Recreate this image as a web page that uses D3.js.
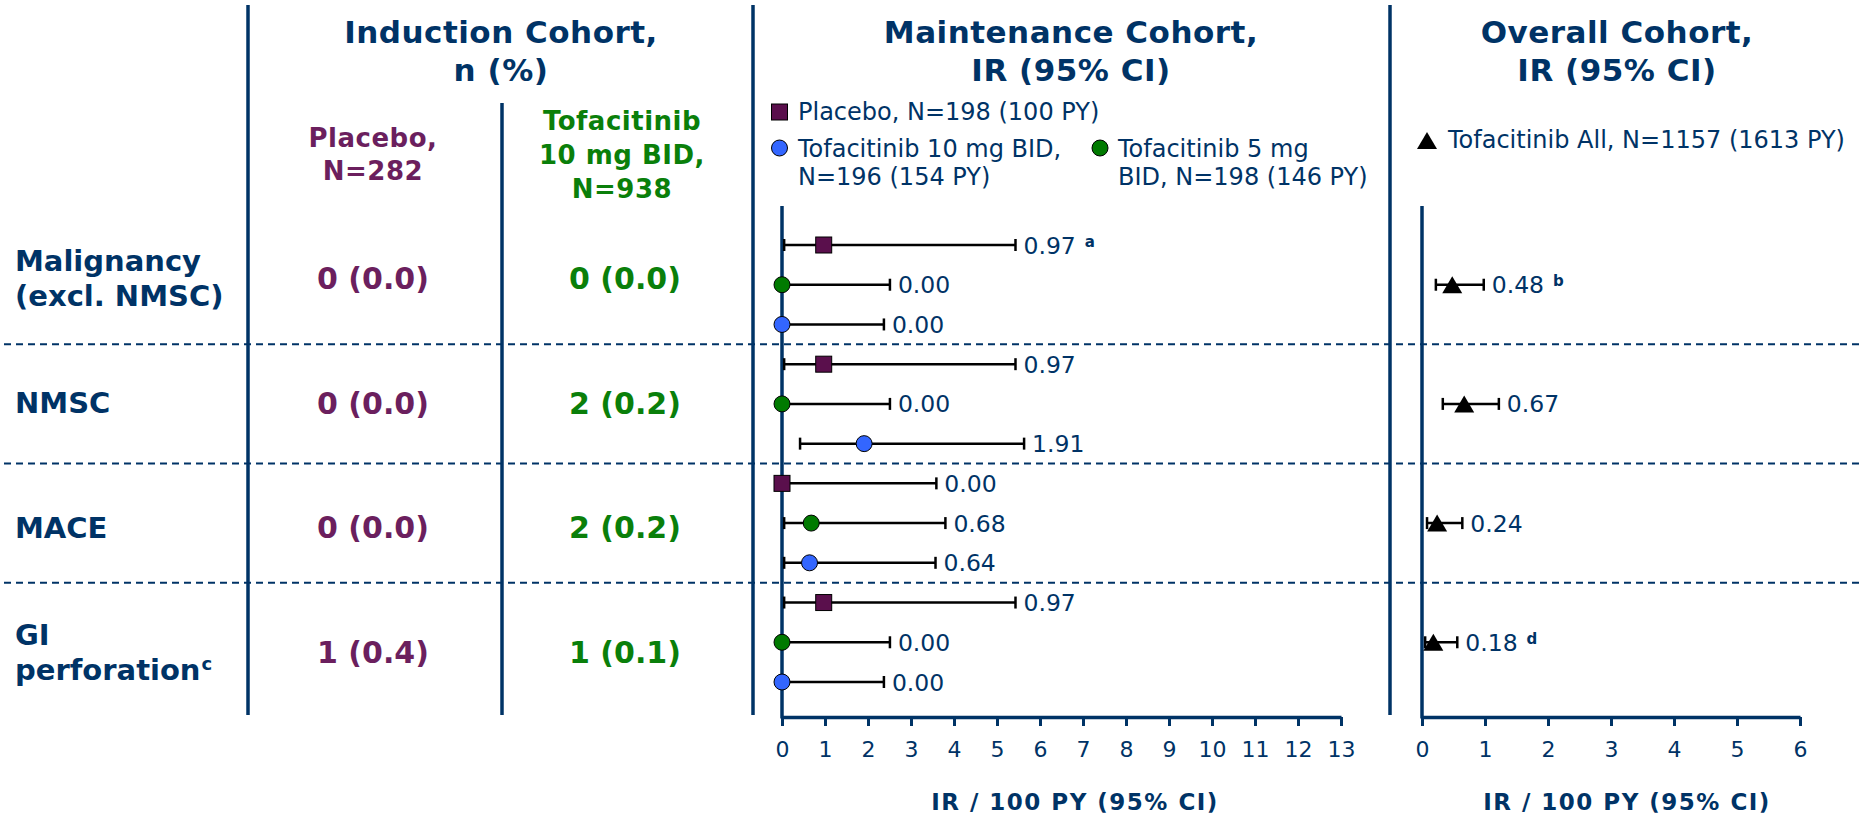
<!DOCTYPE html>
<html>
<head>
<meta charset="utf-8">
<script src="https://cdn.jsdelivr.net/npm/d3@7"></script>
<style>
  html, body { margin: 0; padding: 0; background: #ffffff; }
  svg { display: block; font-family: "DejaVu Sans", Verdana, sans-serif; }
</style>
</head>
<body>
<svg id="chart" width="1860" height="816"></svg>
<script>
// ---------------- DATA ----------------
const categories = ["Malignancy (excl. NMSC)", "NMSC", "MACE", "GI perforation"];
const categoryLines = [["Malignancy", "(excl. NMSC)"], ["NMSC"], ["MACE"], ["GI", "perforation"]];
const categorySup = ["", "", "", "c"];

const inductionPlacebo = ["0 (0.0)", "0 (0.0)", "0 (0.0)", "1 (0.4)"];
const inductionTofa10 = ["0 (0.0)", "2 (0.2)", "2 (0.2)", "1 (0.1)"];

// Maintenance cohort (IR / 100 PY with 95% CI)
const maintPlaceboIR = [0.97, 0.97, 0.00, 0.97];
const maintPlaceboLo = [0.05, 0.05, 0.00, 0.05];
const maintPlaceboHi = [5.43, 5.43, 3.59, 5.43];
const maintPlaceboSup = ["a", "", "", ""];

const maintTofa5IR = [0.00, 0.00, 0.68, 0.00];
const maintTofa5Lo = [0.00, 0.00, 0.05, 0.00];
const maintTofa5Hi = [2.51, 2.51, 3.80, 2.51];

const maintTofa10IR = [0.00, 1.91, 0.64, 0.00];
const maintTofa10Lo = [0.00, 0.42, 0.05, 0.00];
const maintTofa10Hi = [2.37, 5.63, 3.57, 2.37];

// Overall cohort
const overallIR = [0.48, 0.67, 0.24, 0.18];
const overallLo = [0.22, 0.33, 0.08, 0.05];
const overallHi = [0.98, 1.22, 0.64, 0.56];
const overallSup = ["b", "", "", "d"];

const maintTicks = d3.range(0, 14);
const overallTicks = d3.range(0, 7);

const legendMaint = [
  { label: ["Placebo, N=198 (100 PY)"], shape: "square", key: "placebo" },
  { label: ["Tofacitinib 10 mg BID,", "N=196 (154 PY)"], shape: "circle", key: "tofa10" },
  { label: ["Tofacitinib 5 mg", "BID, N=198 (146 PY)"], shape: "circle", key: "tofa5" }
];
const legendOverall = "Tofacitinib All, N=1157 (1613 PY)";

// ---------------- STYLE ----------------
const NAVY = "#003366";
const PURPLE_TXT = "#6b1f5e";
const GREEN_TXT = "#0a7f0a";
const colors = { placebo: "#5a0f4c", tofa5: "#007a00", tofa10: "#3366ff", all: "#000000" };

const svg = d3.select("#chart");

// ---------------- SCALES ----------------
const yTable = d3.scalePoint().domain(categories).range([278, 652]);
const ySlot = d3.scalePoint().domain(d3.range(12)).range([245, 682]);
const xMaint = d3.scaleLinear().domain([0, 13]).range([782, 1341]);
const xOver = d3.scaleLinear().domain([0, 6]).range([1422, 1800]);
const axisY = 717;

// ---------------- HEADERS ----------------
function multiText(x, baselines, lines, opts) {
  const t = svg.append("text")
    .attr("text-anchor", opts.anchor || "middle")
    .attr("font-size", opts.size)
    .attr("font-weight", opts.weight || "normal")
    .attr("fill", opts.fill)
    .attr("letter-spacing", opts.ls || 0);
  lines.forEach((l, i) => {
    t.append("tspan").attr("x", x).attr("y", baselines[i]).text(l);
  });
  return t;
}

multiText(501, [43, 81], ["Induction Cohort,", "n (%)"], { size: 31, weight: "bold", fill: NAVY, ls: 0.5 });
multiText(1071, [43, 81], ["Maintenance Cohort,", "IR (95% CI)"], { size: 31, weight: "bold", fill: NAVY, ls: 0.5 });
multiText(1617, [43, 81], ["Overall Cohort,", "IR (95% CI)"], { size: 31, weight: "bold", fill: NAVY, ls: 0.5 });

multiText(373, [147, 180], ["Placebo,", "N=282"], { size: 26, weight: "bold", fill: PURPLE_TXT, ls: 0.5 });
multiText(622, [130, 164, 198], ["Tofacitinib", "10 mg BID,", "N=938"], { size: 26, weight: "bold", fill: GREEN_TXT, ls: 0.5 });

// ---------------- GRID LINES ----------------
const sepYs = [0, 1, 2].map(g => (ySlot(g * 3 + 2) + ySlot(g * 3 + 3)) / 2);
svg.append("g").selectAll("line").data(sepYs).join("line")
  .attr("x1", 4).attr("x2", 1860)
  .attr("y1", d => d).attr("y2", d => d)
  .attr("stroke", NAVY).attr("stroke-width", 2).attr("stroke-dasharray", "7,5");

const vlines = [
  { x: 248, y1: 5, y2: 715 },
  { x: 502, y1: 103, y2: 715 },
  { x: 753, y1: 5, y2: 715 },
  { x: 1390, y1: 5, y2: 715 }
];
svg.append("g").selectAll("line").data(vlines).join("line")
  .attr("x1", d => d.x).attr("x2", d => d.x)
  .attr("y1", d => d.y1).attr("y2", d => d.y2)
  .attr("stroke", NAVY).attr("stroke-width", 3.5);

// ---------------- TABLE ----------------
const rowG = svg.append("g");
categories.forEach((c, i) => {
  const cy = yTable(c);
  const lines = categoryLines[i];
  const fs = 29;
  const offs = lines.length === 1 ? [0] : [-17.5, 17.5];
  const t = rowG.append("text").attr("font-size", fs).attr("font-weight", "bold").attr("fill", NAVY);
  lines.forEach((l, j) => {
    const ts = t.append("tspan").attr("x", 15).attr("y", cy + offs[j] + 10.5).text(l);
    if (j === lines.length - 1 && categorySup[i]) {
      t.append("tspan").attr("dx", 1).attr("dy", -10).attr("font-size", 18).text(categorySup[i]);
    }
  });
  rowG.append("text").attr("x", 373).attr("y", cy + 11)
    .attr("text-anchor", "middle").attr("font-size", 30).attr("font-weight", "bold")
    .attr("fill", PURPLE_TXT).text(inductionPlacebo[i]);
  rowG.append("text").attr("x", 625).attr("y", cy + 11)
    .attr("text-anchor", "middle").attr("font-size", 30).attr("font-weight", "bold")
    .attr("fill", GREEN_TXT).text(inductionTofa10[i]);
});

// ---------------- AXES ----------------
function drawAxis(x, ticks, y0) {
  const ax = d3.axisBottom(x).tickValues(ticks).tickSize(9).tickSizeOuter(0).tickPadding(15)
    .tickFormat(d3.format("d"));
  const g = svg.append("g").attr("transform", `translate(0,${axisY})`).call(ax);
  g.select(".domain").attr("stroke", NAVY).attr("stroke-width", 3.5);
  g.selectAll(".tick line").attr("stroke", NAVY).attr("stroke-width", 3);
  g.selectAll(".tick text").attr("fill", NAVY).attr("font-size", 22)
    .attr("font-family", "DejaVu Sans, Verdana, sans-serif");
  svg.append("line").attr("x1", x(0)).attr("x2", x(0)).attr("y1", 206).attr("y2", axisY + 1.5)
    .attr("stroke", NAVY).attr("stroke-width", 3.5);
}
drawAxis(xMaint, maintTicks);
drawAxis(xOver, overallTicks);

svg.append("text").attr("x", 1075).attr("y", 810).attr("text-anchor", "middle")
  .attr("font-size", 23).attr("font-weight", "bold").attr("fill", NAVY).attr("letter-spacing", 1.5)
  .text("IR / 100 PY (95% CI)");
svg.append("text").attr("x", 1627).attr("y", 810).attr("text-anchor", "middle")
  .attr("font-size", 23).attr("font-weight", "bold").attr("fill", NAVY).attr("letter-spacing", 1.5)
  .text("IR / 100 PY (95% CI)");

// ---------------- MARKS ----------------
function triPath(cx, cy, w, h) {
  return `M${cx},${cy - h / 2}L${cx + w / 2},${cy + h / 2}L${cx - w / 2},${cy + h / 2}Z`;
}
function marker(g, shape, cx, cy, fill) {
  if (shape === "square") {
    g.append("rect").attr("x", cx - 8).attr("y", cy - 8).attr("width", 16).attr("height", 16)
      .attr("fill", fill).attr("stroke", "#000").attr("stroke-width", 1);
  } else if (shape === "circle") {
    g.append("circle").attr("cx", cx).attr("cy", cy).attr("r", 8)
      .attr("fill", fill).attr("stroke", "#000").attr("stroke-width", 1);
  } else {
    g.append("path").attr("d", triPath(cx, cy, 20, 17)).attr("fill", fill);
  }
}
function errorBar(g, x, y, lo, hi) {
  g.append("line").attr("x1", x(lo)).attr("x2", x(hi)).attr("y1", y).attr("y2", y)
    .attr("stroke", "#000").attr("stroke-width", 2.5);
  [lo, hi].forEach(v => {
    g.append("line").attr("x1", x(v)).attr("x2", x(v)).attr("y1", y - 6).attr("y2", y + 6)
      .attr("stroke", "#000").attr("stroke-width", 2.5);
  });
}
function valueLabel(g, x, y, hi, val, sup) {
  const t = g.append("text").attr("x", x(hi) + 8).attr("y", y + 8.5)
    .attr("font-size", 23.5).attr("fill", NAVY).text(d3.format(".2f")(val));
  if (sup) {
    t.append("tspan").attr("dx", 9).attr("dy", -7).attr("font-size", 15).attr("font-weight", "bold").text(sup);
  }
}

const series = [
  { key: "placebo", shape: "square", ir: maintPlaceboIR, lo: maintPlaceboLo, hi: maintPlaceboHi, sup: maintPlaceboSup },
  { key: "tofa5", shape: "circle", ir: maintTofa5IR, lo: maintTofa5Lo, hi: maintTofa5Hi, sup: ["", "", "", ""] },
  { key: "tofa10", shape: "circle", ir: maintTofa10IR, lo: maintTofa10Lo, hi: maintTofa10Hi, sup: ["", "", "", ""] }
];

const mG = svg.append("g");
categories.forEach((c, i) => {
  series.forEach((s, k) => {
    const y = ySlot(i * 3 + k);
    errorBar(mG, xMaint, y, s.lo[i], s.hi[i]);
  });
});
categories.forEach((c, i) => {
  series.forEach((s, k) => {
    const y = ySlot(i * 3 + k);
    marker(mG, s.shape, xMaint(s.ir[i]), y, colors[s.key]);
    valueLabel(mG, xMaint, y, s.hi[i], s.ir[i], s.sup[i]);
  });
});

const oG = svg.append("g");
categories.forEach((c, i) => {
  const y = ySlot(i * 3 + 1);
  errorBar(oG, xOver, y, overallLo[i], overallHi[i]);
  marker(oG, "triangle", xOver(overallIR[i]), y, colors.all);
  valueLabel(oG, xOver, y, overallHi[i], overallIR[i], overallSup[i]);
});

// ---------------- LEGENDS ----------------
const lg = svg.append("g");
const legPos = [
  { mx: 779.5, my: 112, tx: 798, ty: [120] },
  { mx: 779.5, my: 148, tx: 798, ty: [157, 185] },
  { mx: 1100, my: 148, tx: 1118, ty: [157, 185] }
];
legendMaint.forEach((L, i) => {
  const p = legPos[i];
  marker(lg, L.shape, p.mx, p.my, colors[L.key]);
  multiText(p.tx, p.ty, L.label, { size: 24, fill: NAVY, anchor: "start" });
});
marker(lg, "triangle", 1427, 140.5, colors.all);
multiText(1448, [148], [legendOverall], { size: 24, fill: NAVY, anchor: "start" });
</script>
</body>
</html>
